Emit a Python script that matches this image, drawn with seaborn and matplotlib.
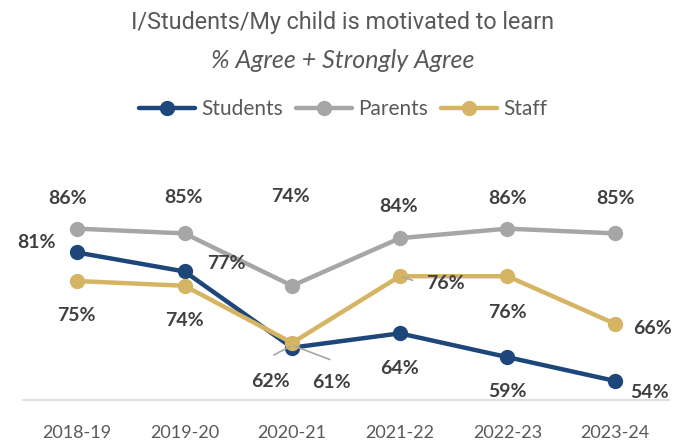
import matplotlib
matplotlib.use("Agg")
import matplotlib.pyplot as plt
import seaborn as sns
import pandas as pd
from matplotlib import font_manager as fm
from matplotlib.lines import Line2D

years = ["2018-19", "2019-20", "2020-21", "2021-22", "2022-23", "2023-24"]
students = [81, 77, 61, 64, 59, 54]
parents = [86, 85, 74, 84, 86, 85]
staff = [75, 74, 62, 76, 76, 66]
series_names = ["Students", "Parents", "Staff"]
colors = ["#1D477B", "#A6A6A6", "#D5B563"]

sns.set_theme(style="white")
plt.rcParams["font.family"] = ["Lato", "DejaVu Sans"]

title_kw = dict(family="Roboto", fontsize=16.8)
if any(f.name == "Liberation Sans Narrow" for f in fm.fontManager.ttflist):
    title_kw = dict(family="Liberation Sans Narrow", fontsize=19)

df = pd.DataFrame({
    "year": years * 3,
    "x": list(range(len(years))) * 3,
    "value": students + parents + staff,
    "series": [s for s in series_names for _ in years],
})

fig = plt.figure(figsize=(6.86, 4.43), dpi=100)
ax = fig.add_axes([23/686, 43/443, 646/686, 238/443])
sns.lineplot(data=df, x="x", y="value", hue="series", palette=colors,
             marker="o", markersize=11, markeredgewidth=0, linewidth=3.2,
             ax=ax, legend=False, clip_on=False)
ax.set_xlim(-0.5, 5.5)
ax.set_ylim(50, 100)
ax.set_xticks(range(len(years)))
ax.set_xticklabels(years, fontsize=13, color="#595959")
ax.set_yticks([])
ax.set_xlabel("")
ax.set_ylabel("")
for s in ["top", "left", "right"]:
    ax.spines[s].set_visible(False)
ax.spines["bottom"].set_color("#D9D9D9")
ax.spines["bottom"].set_linewidth(1.2)
ax.tick_params(axis="x", length=0, pad=18)

lab = dict(fontsize=14, fontweight="bold", color="#404040", ha="center", va="center")
# offsets in points (dx, dy)
par_off = [(-7, 22), (-1, 26), (-1, 64), (-1, 23), (0, 22), (0, 25)]
stu_off = [(-29, 7), (30, 6), (28, -25), (0, -25), (0, -25), (25, -8)]
sta_off = [(0, -25), (0, -25), (-16, -28), (33, -5), (0, -26), (27, -3)]
for vals, offs in [(parents, par_off), (students, stu_off), (staff, sta_off)]:
    for i, (v, o) in enumerate(zip(vals, offs)):
        ax.annotate(f"{v}%", (i, v), xytext=o, textcoords="offset points", **lab,
                    annotation_clip=False)

# leader lines
lc = dict(arrowstyle="-", color="#A6A6A6", lw=1.2)
ax.annotate("", (2, 61.5), xytext=(-15, -8), textcoords="offset points", arrowprops=lc)
ax.annotate("", (2, 61.5), xytext=(29, -11), textcoords="offset points", arrowprops=lc)
ax.annotate("", (3, 76), xytext=(11, -3.5), textcoords="offset points", arrowprops=lc)

# legend
handles = [Line2D([], [], color=c, lw=3.2, marker="o", markersize=11, markeredgewidth=0)
           for c in colors]
fig.legend(handles, series_names, loc="center", bbox_to_anchor=(0.5, 1 - 109/443),
           ncol=3, frameon=False, fontsize=15, labelcolor="#595959",
           handlelength=2.7, handletextpad=0.3, columnspacing=0.6)

fig.text(0.5, 1 - 23/443, "I/Students/My child is motivated to learn", ha="center",
         va="center", color="#595959", **title_kw)
fig.text(0.5, 1 - 60/443, "% Agree + Strongly Agree", ha="center", va="center",
         fontsize=18, color="#595959", style="italic")

fig.savefig("out.png", dpi=100)
